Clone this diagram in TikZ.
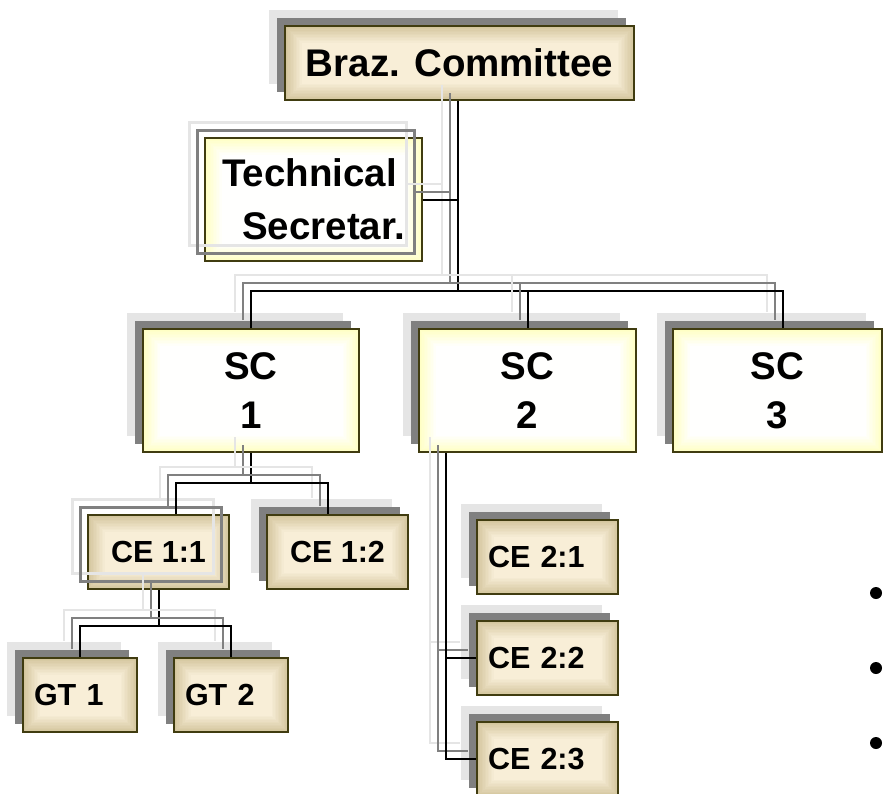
\documentclass[tikz,border=0pt]{standalone}
\usepackage{fontspec}
\setmainfont{Liberation Sans}
\usetikzlibrary{shadows, positioning}
\definecolor{sombraclara}{RGB}{229,229,229}
\definecolor{sombraoscura}{RGB}{128,128,128}
\definecolor{borde}{RGB}{64,60,16}
\definecolor{beige}{RGB}{212,198,158}
\definecolor{crema}{RGB}{248,238,216}
\definecolor{amarillo}{RGB}{255,255,196}
\tikzset{degradado/.style 2 args={path picture={
			\foreach \k in {0,...,11}
			\fill[#1!\the\numexpr 100-\k*9\relax!#2] ([xshift=\k*1.5pt, yshift=\k*1.5pt]path picture bounding box.south west) rectangle ([xshift=-\k*1.5pt, yshift=-\k*1.5pt]path picture bounding box.north east);}}}
\tikzstyle{sombras} = [general shadow={shadow xshift=-16pt, shadow yshift=16pt, fill=sombraclara}, general shadow={shadow xshift=-8pt, shadow yshift=8pt, fill=sombraoscura}]
\tikzstyle{marcos} = [postaction={draw=sombraclara, line width=3pt, transform canvas={shift={(-16pt,16pt)}}}, postaction={draw=sombraoscura, line width=3pt, transform canvas={shift={(-8pt,8pt)}}}]
\tikzstyle{caja} = [rectangle, draw=borde, line width=2pt, inner sep=0pt]
\tikzstyle{cajabeige} = [caja, degradado={beige}{crema}]
\tikzstyle{cajaamarilla} = [caja, degradado={amarillo}{white}]
\tikzstyle{grande} = [font=\fontsize{38.5}{49}\selectfont\bfseries]
\tikzstyle{pequena} = [font=\fontsize{30.5}{36}\selectfont\bfseries]
\tikzstyle{linea} = [draw, line width=2pt, general shadow={shadow xshift=-16pt, shadow yshift=16pt, draw=sombraclara, line width=2pt}, general shadow={shadow xshift=-8pt, shadow yshift=8pt, draw=sombraoscura, line width=2pt}]
\tikzstyle{punto} = [circle, fill=black, minimum size=12pt, inner sep=0pt]

\begin{document}
\begin{tikzpicture}[x=1pt, y=-1pt]
		\useasboundingbox (0,0) rectangle (883,793);
		
		% Comite y secretaria
		\node[cajabeige, sombras, grande, minimum width=349pt, minimum height=74pt] (braz) at (459.5,63) {Braz. Committee};
		\node[cajaamarilla, marcos, font=\fontsize{38.5}{53}\selectfont\bfseries, align=left, minimum width=217pt, minimum height=123pt] (ts) at (313.5,199.5) {Technical\\\hspace*{20pt}Secretar.};
		
		% Subcomites
		\node[cajaamarilla, sombras, grande, align=center, minimum width=216pt, minimum height=123pt] (sc1) at (251,390.5) {SC\\1};
		\node[cajaamarilla, sombras, grande, align=center, minimum width=217pt, minimum height=123pt] (sc2) at (527.5,390.5) {SC\\2};
		\node[cajaamarilla, sombras, grande, align=center, minimum width=209pt, minimum height=123pt] (sc3) at (777.5,390.5) {SC\\3};
		
		% Comisiones del SC 1
		\node[cajabeige, marcos, pequena, minimum width=141pt, minimum height=74pt] (ce11) at (158.5,552) {CE 1:1};
		\node[cajabeige, sombras, pequena, minimum width=141pt, minimum height=74pt] (ce12) at (337.5,552) {CE 1:2};
		
		% Grupos de trabajo
		\node[cajabeige, sombras, pequena, align=left, text width=92pt, inner xsep=11pt, minimum height=74pt] (gt1) at (80,695) {GT 1};
		\node[cajabeige, sombras, pequena, align=left, text width=92pt, inner xsep=11pt, minimum height=74pt] (gt2) at (231,695) {GT 2};
		
		% Comisiones del SC 2
		\node[cajabeige, sombras, pequena, align=left, text width=119pt, inner xsep=11pt, minimum height=74pt] (ce21) at (547.5,557) {CE 2:1};
		\node[cajabeige, sombras, pequena, align=left, text width=119pt, inner xsep=11pt, minimum height=74pt] (ce22) at (547.5,658) {CE 2:2};
		\node[cajabeige, sombras, pequena, align=left, text width=119pt, inner xsep=11pt, minimum height=74pt] (ce23) at (547.5,759) {CE 2:3};
		
		% Conexiones
		\coordinate (tronco) at (458,291);
		\draw[linea] (braz.south -| tronco) -- (tronco);
		\draw[linea] (ts.east) -- (ts.east -| tronco);
		\draw[linea] (sc1.north) |- (tronco) -| ([xshift=5.5pt]sc3.north);
		\draw[linea] (sc2.north) -- (sc2.north |- tronco);
		
		\coordinate (barra1) at (251,483);
		\draw[linea] (sc1.south) -- (barra1);
		\draw[linea] ([xshift=17.5pt]ce11.north) |- (barra1) -| ([xshift=-9.5pt]ce12.north);
		
		\coordinate (barra2) at (158.5,626);
		\draw[linea] (ce11.south) -- (barra2);
		\draw[linea] (gt1.north) |- (barra2) -| (gt2.north);
		
		\draw[linea] ([xshift=-81.5pt]sc2.south) |- (ce22.west);
		\draw[linea] ([xshift=-81.5pt]sc2.south) |- (ce23.west);
		
		% Vinetas
		\node[punto] (p1) at (876,593) {};
		\node[punto] (p2) at (876,668) {};
		\node[punto] (p3) at (876,743) {};
	\end{tikzpicture}
\end{document}
